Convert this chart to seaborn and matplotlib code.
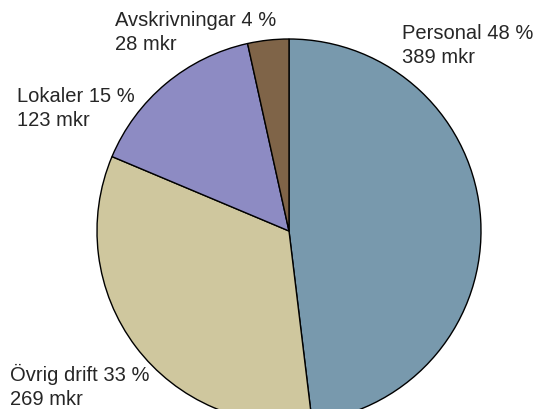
import matplotlib
matplotlib.use("Agg")
import matplotlib.pyplot as plt
import seaborn as sns

# Data
categories = ["Personal", "Övrig drift", "Lokaler", "Avskrivningar"]
amounts = [389, 269, 123, 28]          # mkr
percents = [48, 33, 15, 4]             # as printed in the chart
colors = ["#7899ad", "#cfc79e", "#8d8bc3", "#7f6448"]

sns.set_theme(style="white")
plt.rcParams['font.family'] = ['Liberation Sans', 'DejaVu Sans']

fig = plt.figure(figsize=(5.37, 4.09), dpi=100)
ax = fig.add_axes([0, 0, 1, 1])

ax.pie(amounts, colors=colors, startangle=90, counterclock=False,
       center=(289, -231), radius=192,
       wedgeprops=dict(edgecolor="black", linewidth=1.0))

ax.set_xlim(0, 537)
ax.set_ylim(-409, 0)
ax.set_aspect("equal")
ax.axis("off")

# label positions (top-left corner of each two-line label)
label_pos = {
    "Personal": (402, -24),
    "Övrig drift": (10, -364),
    "Lokaler": (17, -87),
    "Avskrivningar": (115, -11),
}
for cat, amt, pct in zip(categories, amounts, percents):
    x, y = label_pos[cat]
    ax.text(x, y, f"{cat} {pct} %\n{amt} mkr", ha="left", va="top",
            fontsize=14.5, color="#262626", linespacing=1.33)

plt.savefig("out.png", dpi=100)
